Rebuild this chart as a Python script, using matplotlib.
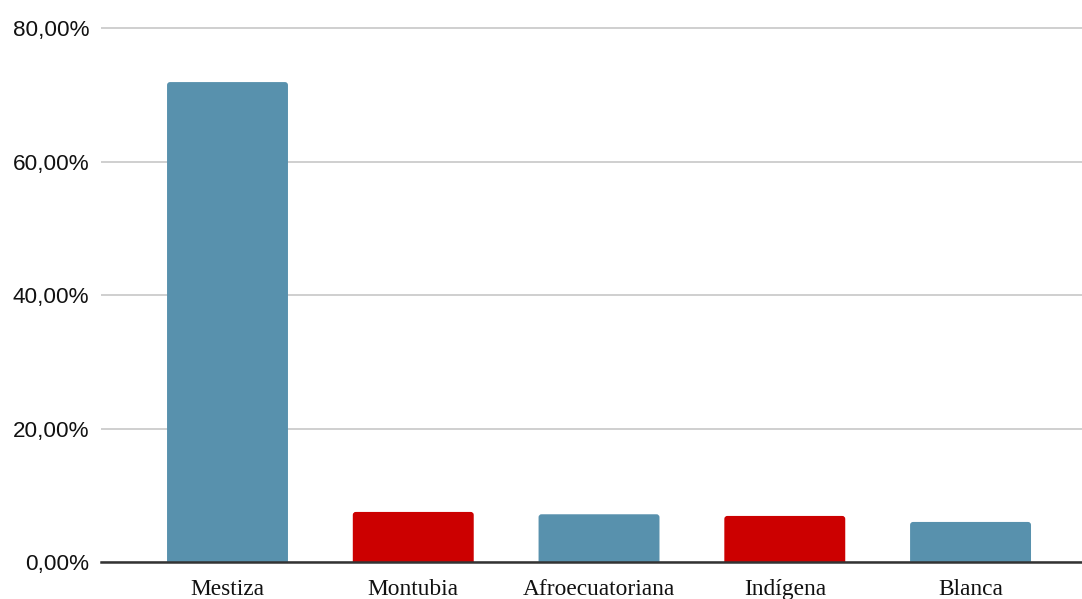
import matplotlib
matplotlib.use("Agg")
import matplotlib.pyplot as plt
from matplotlib.patches import FancyBboxPatch
from matplotlib.ticker import FuncFormatter

categories = ["Mestiza", "Montubia", "Afroecuatoriana", "Indígena", "Blanca"]
values = [71.9, 7.5, 7.15, 6.9, 6.0]
colors = ["#5891ad", "#cc0000", "#5891ad", "#cc0000", "#5891ad"]
yticks = [0, 20, 40, 60, 80]

W, H = 1082, 599
fig = plt.figure(figsize=(W / 100, H / 100), dpi=100)
# axes placed in pixel terms: left 101, right 1082, bottom 562, top 22
ax = fig.add_axes([101 / W, (H - 562) / H, (W - 101) / W, (562 - 22) / H])

x_lo, x_hi = -0.681, 4.600
y_lo, y_hi = 0, 80.9
ax.set_xlim(x_lo, x_hi)
ax.set_ylim(y_lo, y_hi)

# data units per pixel, used to keep the corner radius round
px_x = (x_hi - x_lo) / (W - 101)
px_y = (y_hi - y_lo) / (562 - 22)
radius = 3 * px_x
bar_w = 0.651

for i, (v, c) in enumerate(zip(values, colors)):
    patch = FancyBboxPatch(
        (i - bar_w / 2, -2), bar_w, v + 2,
        boxstyle=f"round,pad=0,rounding_size={radius}",
        mutation_aspect=px_y / px_x,
        facecolor=c, edgecolor="none", zorder=3,
    )
    ax.add_patch(patch)

ax.set_yticks(yticks)
ax.yaxis.set_major_formatter(FuncFormatter(lambda v, p: f"{v:.2f}".replace(".", ",") + "%"))
ax.grid(axis="y", color="#cccccc", linewidth=1.3, zorder=0)
ax.set_xticks(range(len(categories)))
ax.set_xticklabels(categories, fontfamily="Liberation Serif", fontsize=16.8, color="#111111")
for lbl in ax.get_yticklabels():
    lbl.set_fontfamily("Liberation Sans")
    lbl.set_fontsize(16.2)
    lbl.set_color("#111111")
ax.tick_params(axis="both", length=0)
ax.tick_params(axis="y", pad=8.5)
ax.tick_params(axis="x", pad=12)

for side in ["top", "right", "left"]:
    ax.spines[side].set_visible(False)
ax.spines["bottom"].set_color("#333333")
ax.spines["bottom"].set_linewidth(1.8)
ax.spines["bottom"].set_zorder(4)

fig.savefig("out.png", dpi=100, facecolor="white")
